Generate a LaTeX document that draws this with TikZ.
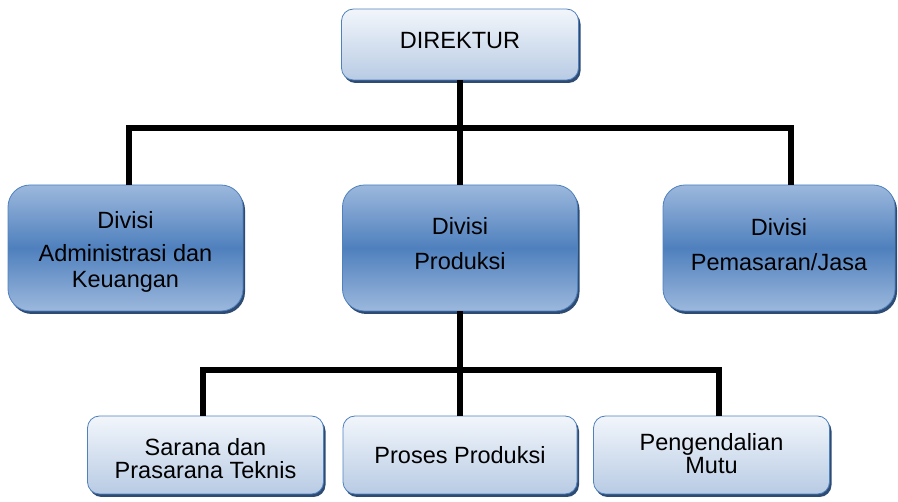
\documentclass[tikz,border=0pt]{standalone}
\usepackage{fontspec}
\setmainfont{Liberation Sans}
\usetikzlibrary{shadows}
\definecolor{paleblue}{HTML}{F2F6FB}
\definecolor{softblue}{HTML}{B8CBE4}
\definecolor{edgeblue}{HTML}{4F81BD}
\definecolor{glassblue}{HTML}{9CB8DD}
\definecolor{deepblue}{HTML}{4F80BD}
\definecolor{shadeblue}{HTML}{2E4B73}
\newcommand{\padabove}[1]{\rule{0pt}{#1}}
\newcommand{\padbelow}[1]{\rule[-#1]{0pt}{#1}}

\begin{document}
\begin{tikzpicture}[x=1pt,y=-1pt,
  every node/.style={align=center,inner sep=0pt},
  boxshadow/.style={drop shadow={shadow xshift=2pt,shadow yshift=-3pt,fill=shadeblue,opacity=1}},
  headbox/.style={boxshadow,draw=edgeblue,line width=0.8pt,rounded corners=12pt,
    top color=paleblue,bottom color=softblue,font=\fontsize{23.5}{26}\selectfont},
  divbox/.style={boxshadow,draw=edgeblue,line width=0.8pt,rounded corners=22pt,
    top color=glassblue,bottom color=glassblue,middle color=deepblue,
    minimum width=235pt,minimum height=126pt,font=\fontsize{23.5}{26}\selectfont},
  subbox/.style={boxshadow,draw=edgeblue,line width=0.8pt,rounded corners=12pt,
    top color=paleblue,bottom color=softblue,
    minimum width=236pt,minimum height=78pt,font=\fontsize{23.5}{23}\selectfont},
  link/.style={line width=6pt}]
\useasboundingbox (0,0) rectangle (898,502);

\node[headbox,minimum width=237pt,minimum height=71pt] (dir) at (460,44.5) {DIREKTUR\padbelow{8pt}};

\node[divbox] (adm) at (125.5,248) {\padabove{25pt}Divisi\\[7pt]Administrasi dan\\Keuangan};
\node[divbox] (prod) at (460,248) {Divisi\\[9pt]Produksi\padbelow{10pt}};
\node[divbox,minimum width=232pt] (pem) at (779,248) {Divisi\\[9pt]Pemasaran/Jasa\padbelow{6.5pt}};

\node[subbox] (sar) at (205.5,455) {\padabove{25pt}Sarana dan\\Prasarana Teknis};
\node[subbox,minimum width=234pt] (proc) at (460,455) {Proses Produksi};
\node[subbox] (mutu) at (711.5,455) {Pengendalian\\Mutu\padbelow{3pt}};

\coordinate (busL) at (128.5,128);
\coordinate (busR) at (790.5,128);
\coordinate (subL) at (202.5,370);
\coordinate (subR) at (718.5,370);

\draw[link] (dir.south) -- (prod.north);
\draw[link] (busL |- adm.north) -- (busL) -- (busR) -- (busR |- pem.north);
\draw[link] (prod.south) -- (proc.north);
\draw[link] (subL |- sar.north) -- (subL) -- (subR) -- (subR |- mutu.north);
\end{tikzpicture}
\end{document}
